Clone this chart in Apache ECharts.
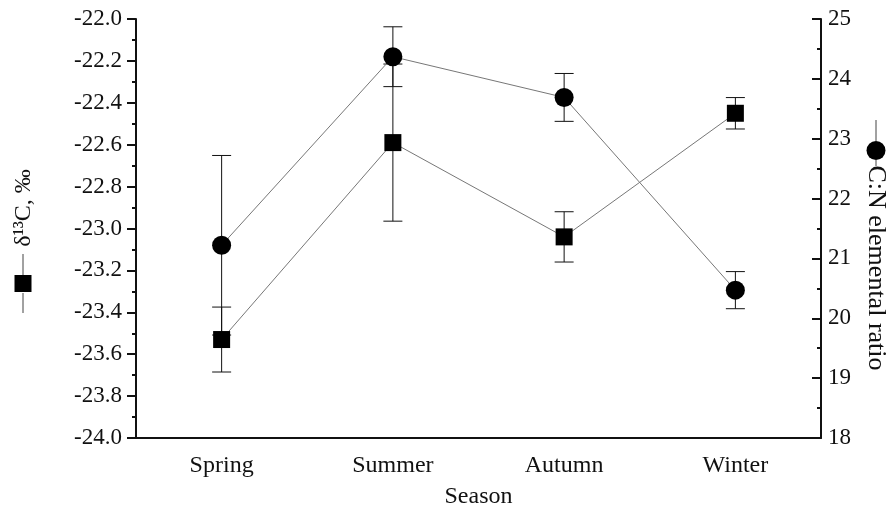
<!DOCTYPE html>
<html>
<head>
<meta charset="utf-8">
<script src="https://cdn.jsdelivr.net/npm/echarts@6/dist/echarts.min.js"></script>
<style>
html,body{margin:0;padding:0;background:#fff;}
#c{width:886px;height:515px;}
</style>
</head>
<body>
<div id="c"></div>
<script>
// ---- data ----
const seasons = ['Spring', 'Summer', 'Autumn', 'Winter'];
const d13C = [-23.53, -22.59, -23.04, -22.45];
const d13CErr = [0.155, 0.375, 0.12, 0.075];
const cnRatio = [21.22, 24.37, 23.69, 20.47];
const cnErr = [1.5, 0.5, 0.40, 0.31];
const leftRange = [-24, -22, 0.2];
const rightRange = [18, 25, 1];

const FONT = 'Liberation Serif';
const chart = echarts.init(document.getElementById('c'), null, {renderer: 'canvas'});

function errData(vals, errs) {
  return vals.map((v, i) => [i, v - errs[i], v + errs[i]]);
}
function errRender(params, api) {
  const i = api.value(0);
  const lo = api.coord([i, api.value(1)]);
  const hi = api.coord([i, api.value(2)]);
  const hw = 9.5;
  const st = {stroke: '#111', lineWidth: 1};
  return {
    type: 'group',
    children: [
      {type: 'line', shape: {x1: lo[0], y1: lo[1], x2: hi[0], y2: hi[1]}, style: st},
      {type: 'line', shape: {x1: lo[0] - hw, y1: lo[1], x2: lo[0] + hw, y2: lo[1]}, style: st},
      {type: 'line', shape: {x1: hi[0] - hw, y1: hi[1], x2: hi[0] + hw, y2: hi[1]}, style: st}
    ]
  };
}

const tickStyle = {color: '#111', fontFamily: FONT, fontSize: 23};

chart.setOption({
  animation: false,
  backgroundColor: '#fff',
  grid: {left: 136, right: 65, top: 19, bottom: 77},
  xAxis: {
    type: 'category',
    data: seasons,
    boundaryGap: true,
    name: 'Season',
    nameLocation: 'middle',
    nameGap: 47,
    nameTextStyle: {color: '#111', fontFamily: FONT, fontSize: 24},
    axisLine: {lineStyle: {color: '#111', width: 2}},
    axisTick: {alignWithLabel: true, length: 8, lineStyle: {color: '#111', width: 2}},
    axisLabel: {margin: 16, color: '#111', fontFamily: FONT, fontSize: 24},
    splitLine: {show: false}
  },
  yAxis: [
    {
      type: 'value',
      position: 'left',
      min: leftRange[0], max: leftRange[1], interval: leftRange[2],
      axisLine: {show: true, lineStyle: {color: '#111', width: 2}},
      axisTick: {show: true, length: 9, lineStyle: {color: '#111', width: 2}},
      minorTick: {show: true, splitNumber: 2, length: 4, lineStyle: {color: '#111', width: 2}},
      axisLabel: Object.assign({margin: 14, formatter: v => v.toFixed(1)}, tickStyle),
      splitLine: {show: false}
    },
    {
      type: 'value',
      position: 'right',
      min: rightRange[0], max: rightRange[1], interval: rightRange[2],
      axisLine: {show: true, lineStyle: {color: '#111', width: 2}},
      axisTick: {show: true, inside: true, length: 9, lineStyle: {color: '#111', width: 2}},
      minorTick: {show: true, splitNumber: 2, length: 4, lineStyle: {color: '#111', width: 2}},
      axisLabel: Object.assign({margin: 7, inside: false}, tickStyle),
      splitLine: {show: false}
    }
  ],
  series: [
    {
      type: 'line', yAxisIndex: 0, data: d13C, z: 3,
      symbol: 'rect', symbolSize: 17,
      lineStyle: {color: '#777', width: 1},
      itemStyle: {color: '#000'}
    },
    {
      type: 'line', yAxisIndex: 1, data: cnRatio, z: 3,
      symbol: 'circle', symbolSize: 19,
      lineStyle: {color: '#777', width: 1},
      itemStyle: {color: '#000'}
    },
    {
      type: 'custom', yAxisIndex: 0, z: 2,
      data: errData(d13C, d13CErr),
      renderItem: errRender
    },
    {
      type: 'custom', yAxisIndex: 1, z: 2,
      data: errData(cnRatio, cnErr),
      renderItem: errRender
    }
  ],
  graphic: [
    // left axis name: — ■ — δ13C, ‰ (reads bottom to top)
    {type: 'line', shape: {x1: 23, y1: 293, x2: 23, y2: 313}, style: {stroke: '#444', lineWidth: 1}},
    {type: 'rect', shape: {x: 14.5, y: 275, width: 17, height: 17}, style: {fill: '#000'}},
    {type: 'line', shape: {x1: 23, y1: 254, x2: 23, y2: 275}, style: {stroke: '#444', lineWidth: 1}},
    {type: 'text', x: 24, y: 208, rotation: Math.PI / 2,
      style: {text: 'δ¹³C, ‰', fill: '#111', font: '24px "Liberation Serif"', align: 'center', verticalAlign: 'middle'}},
    // right axis name: — ● — C:N elemental ratio (reads top to bottom)
    {type: 'line', shape: {x1: 876, y1: 120, x2: 876, y2: 141}, style: {stroke: '#444', lineWidth: 1}},
    {type: 'circle', shape: {cx: 876, cy: 150.5, r: 9.5}, style: {fill: '#000'}},
    {type: 'line', shape: {x1: 876, y1: 160, x2: 876, y2: 166}, style: {stroke: '#444', lineWidth: 1}},
    {type: 'text', x: 876, y: 268, rotation: -Math.PI / 2,
      style: {text: 'C:N elemental ratio', fill: '#111', font: '26px "Liberation Serif"', align: 'center', verticalAlign: 'middle'}}
  ]
});
</script>
</body>
</html>
